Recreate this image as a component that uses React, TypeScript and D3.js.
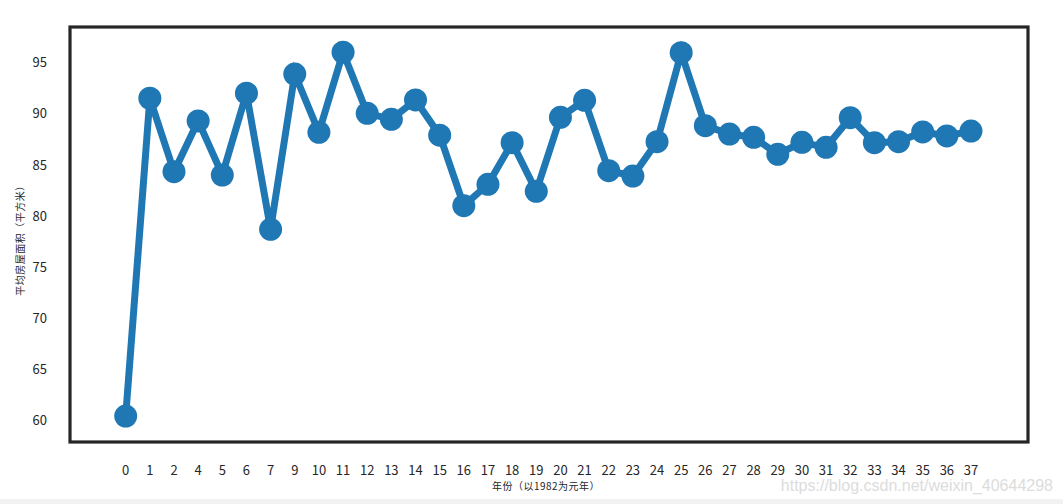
import React from "react";
import * as d3 from "d3";

const years: string[] = ["0","1","2","4","5","6","7","9","10","11","12","13","14","15","16","17","18","19","20","21","22","23","24","25","26","27","28","29","30","31","32","33","34","35","36","37"];
const avgArea: number[] = [60.44,91.53,84.34,89.31,84.02,92.02,78.71,93.90,88.20,96.03,90.06,89.47,91.36,87.92,81.02,83.11,87.18,82.43,89.67,91.33,84.44,83.92,87.28,95.99,88.85,88.03,87.71,86.05,87.22,86.73,89.63,87.18,87.28,88.23,87.84,88.32];
const yTicks: number[] = [60,65,70,75,80,85,90,95];

const W = 1063, H = 504;
const left = 70, right = 1028, top = 27, bottom = 442;
const color = "#1f77b4";

export default function App() {
  const x = d3.scalePoint<string>().domain(years).range([125.7, 971]);
  const y = d3.scaleLinear().domain([57.9, 98.5]).range([bottom, top]);
  const pts = years.map((c, i) => [x(c) as number, y(avgArea[i])] as [number, number]);
  const line = d3.line()(pts) || "";
  const tickFont = "'Noto Sans CJK SC', 'DejaVu Sans', sans-serif";
  return (
    <div style={{ position: "fixed", left: 0, top: 0 }}>
      <svg width={W} height={H} style={{ display: "block", background: "#fff" }}>
        <rect x={0} y={499} width={W} height={5} fill="#f2f2f2" />
        <rect x={left} y={top} width={right - left} height={bottom - top} fill="#fff" stroke="#262626" strokeWidth={3.2} />
        {yTicks.map(t => (
          <text key={t} x={47} y={y(t)} dy="0.35em" textAnchor="end" fontSize={13} fill="#262626" fontFamily={tickFont}>{t}</text>
        ))}
        {years.map(c => (
          <text key={c} x={x(c) as number} y={470} dy="0.35em" textAnchor="middle" fontSize={13} fill="#262626" fontFamily={tickFont}>{c}</text>
        ))}
        <path d={line} fill="none" stroke={color} strokeWidth={7} strokeLinejoin="miter" />
        {pts.map((p, i) => (
          <circle key={i} cx={p[0]} cy={p[1]} r={11.5} fill={color} />
        ))}
        <text x={546} y={490} textAnchor="middle" fontSize={10} letterSpacing={0.5} fill="#262626" fontFamily={tickFont}>年份（以1982为元年）</text>
        <text transform={`translate(20,238) rotate(-90)`} textAnchor="middle" dy="0.35em" fontSize={10} letterSpacing={0.5} fill="#262626" fontFamily={tickFont}>平均房屋面积（平方米）</text>
        <text x={1053} y={491} textAnchor="end" fontSize={16} fill="#dcdcdc" fontFamily="'Liberation Sans', Arial, sans-serif">https://blog.csdn.net/weixin_40644298</text>
      </svg>
    </div>
  );
}
